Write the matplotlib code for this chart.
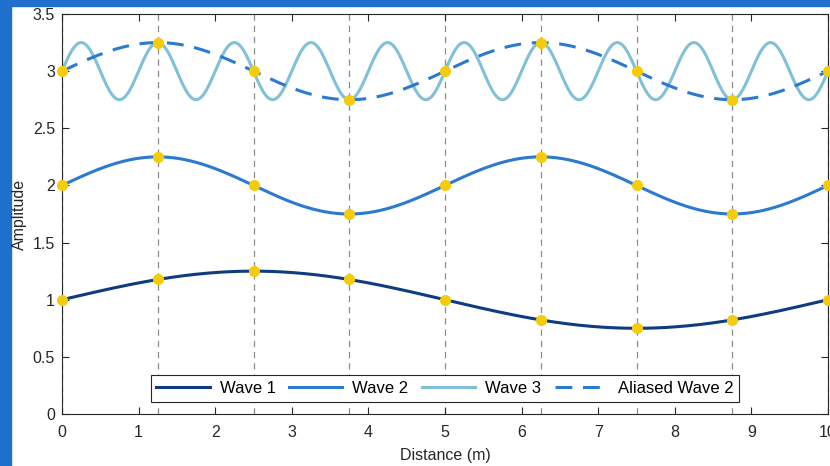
import numpy as np
import matplotlib
matplotlib.use('Agg')
import matplotlib.pyplot as plt
from matplotlib.patches import Rectangle

plt.rcParams['font.family'] = ['Liberation Sans', 'DejaVu Sans']

x_samples = [0, 1.25, 2.5, 3.75, 5, 6.25, 7.5, 8.75, 10]
wave1_samples = [1.0, 1.177, 1.25, 1.177, 1.0, 0.823, 0.75, 0.823, 1.0]
wave2_samples = [2.0, 2.25, 2.0, 1.75, 2.0, 2.25, 2.0, 1.75, 2.0]
wave3_samples = [3.0, 3.25, 3.0, 2.75, 3.0, 3.25, 3.0, 2.75, 3.0]

# wave parameters: offset, amplitude, frequency (cycles per m)
labels = ['Wave 1', 'Wave 2', 'Wave 3', 'Aliased Wave 2']
offsets = [1, 2, 3, 3]
amplitudes = [0.25, 0.25, 0.25, 0.25]
freqs = [0.1, 0.2, 1.0, 0.2]
colors = ['#0f3b80', '#2a7ad0', '#80c0d8', '#2a7ad0']
styles = ['-', '-', '-', (0, (5.5, 3.5))]

x = np.linspace(0, 10, 1000)

fig = plt.figure(figsize=(8.3, 4.66), dpi=100)
fig.patch.set_facecolor('white')
fig.add_artist(Rectangle((0, 0), 11 / 830, 1, transform=fig.transFigure, color='#1f6fcf', zorder=0))
fig.add_artist(Rectangle((0, 1 - 6 / 466), 1, 6 / 466, transform=fig.transFigure, color='#1f6fcf', zorder=0))

ax = fig.add_axes([62 / 830, 1 - 414 / 466, 766 / 830, 400 / 466])

# dashed sample lines
for xs in x_samples:
    ax.axvline(xs, color='#8c8c8c', lw=0.9, ls=(0, (5, 4)), zorder=1)

for lab, off, amp, f, c, s in zip(labels, offsets, amplitudes, freqs, colors, styles):
    ax.plot(x, off + amp * np.sin(2 * np.pi * f * x), color=c, ls=s, lw=2.2, label=lab, zorder=2)

for ys in [wave1_samples, wave2_samples, wave3_samples]:
    ax.plot(x_samples, ys, 'o', color='#f5cc0a', ms=7, zorder=3, clip_on=False)

ax.set_xlim(0, 10)
ax.set_ylim(0, 3.5)
ax.set_xticks(range(11))
ax.set_yticks(np.arange(0, 3.51, 0.5))
ax.set_yticklabels(['0', '0.5', '1', '1.5', '2', '2.5', '3', '3.5'])
ax.tick_params(direction='in', top=True, right=True, labelsize=11.5, colors='#262626', length=5)
ax.tick_params(axis='x', pad=8)
ax.tick_params(axis='y', pad=5)
for sp in ax.spines.values():
    sp.set_color('#262626')
    sp.set_linewidth(0.8)

ax.set_xlabel('Distance (m)', fontsize=11.5, color='#262626', labelpad=6)
ax.set_ylabel('Amplitude', fontsize=11.5, color='#262626', labelpad=4)

leg = ax.legend(loc='lower center', ncol=4, fontsize=12, frameon=True, fancybox=False,
                edgecolor='#262626', framealpha=1, handlelength=3.2, columnspacing=0.8,
                handletextpad=0.6, borderpad=0.35, bbox_to_anchor=(0.5, 0.01))
leg.get_frame().set_linewidth(0.8)

fig.savefig('out.png', dpi=100)
